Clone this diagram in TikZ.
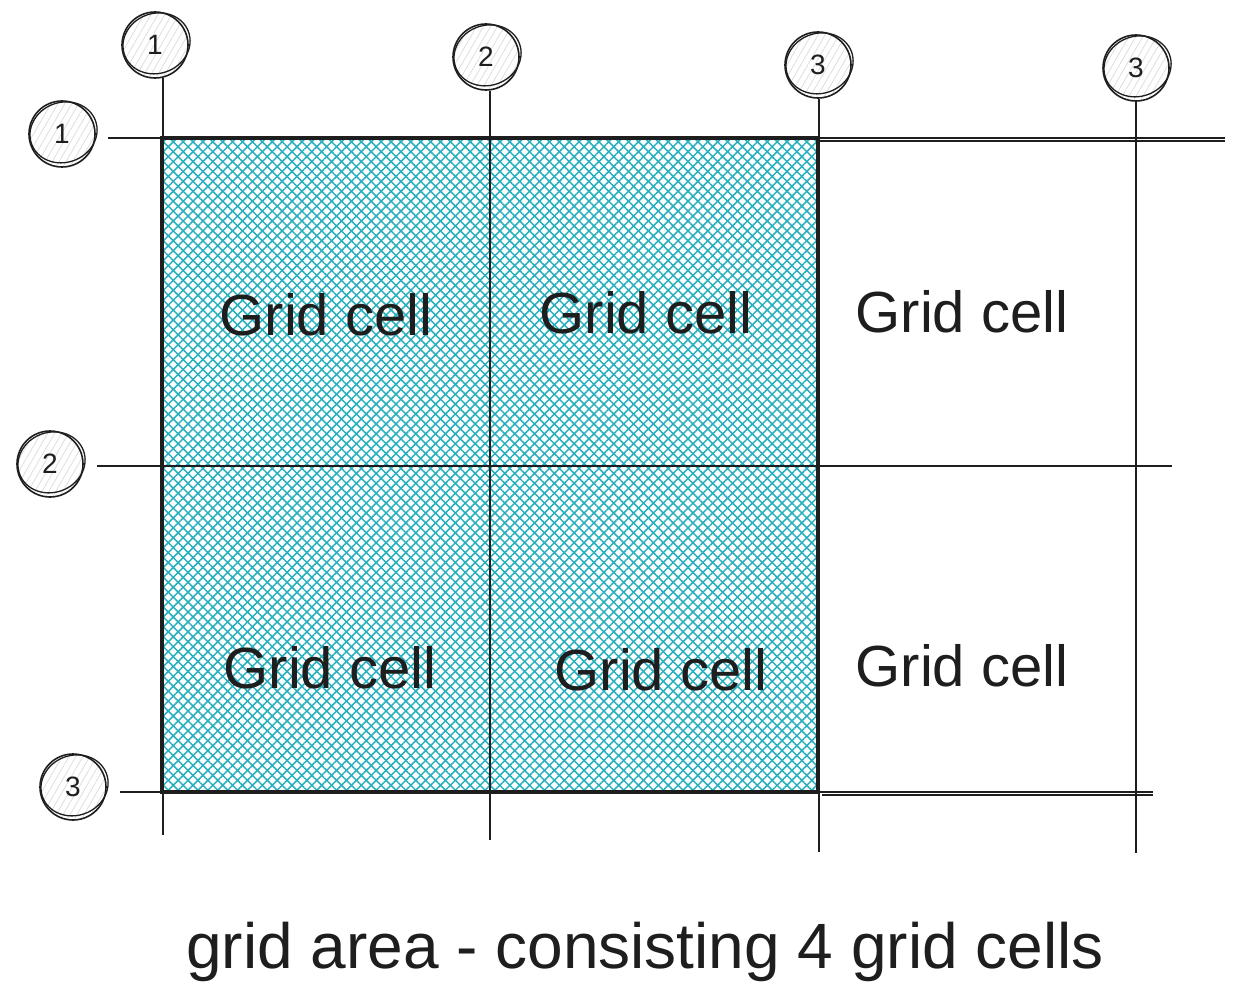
\documentclass[tikz,border=0pt]{standalone}
\usepackage{fontspec}
\setmainfont{Liberation Sans}
\usetikzlibrary{patterns.meta}
\definecolor{hatchteal}{HTML}{28AFBE}
\definecolor{inkk}{HTML}{1E1E1E}
\begin{document}
\begin{tikzpicture}[x=1pt,y=-1pt,
  gline/.style={draw=inkk,line width=2pt},
  numcirc/.style={circle,minimum size=66pt,inner sep=0pt,draw=inkk,line width=1.6pt,
    pattern={Lines[angle=60,distance=6pt,line width=0.7pt]},pattern color=gray!28,
    font=\fontsize{28}{30}\selectfont,text=inkk},
  celltext/.style={font=\fontsize{58}{62}\selectfont,text=inkk},
  captext/.style={font=\fontsize{64}{68}\selectfont,text=inkk}]
\useasboundingbox[fill=white] (0,0) rectangle (1247,1008);

% shaded area
\path[pattern={Lines[angle=45,distance=7pt,line width=1.5pt]},pattern color=hatchteal]
  (162,138) rectangle (818,792);
\path[pattern={Lines[angle=-45,distance=7pt,line width=1.5pt]},pattern color=hatchteal]
  (162,138) rectangle (818,792);

% end coordinates of the grid lines
\coordinate (v1b) at (163,835);
\coordinate (v2b) at (490,840);
\coordinate (v3b) at (819,852);
\coordinate (v4b) at (1136,853);
\coordinate (h1a) at (108,138);
\coordinate (h1b) at (1225,138);
\coordinate (h2a) at (97,466);
\coordinate (h2b) at (1172,466);
\coordinate (h3a) at (120,792);
\coordinate (h3b) at (1153,792);

% number circles
\node[numcirc] (c1) at (155,45) {1};
\node[numcirc] (c2) at (486,57) {2};
\node[numcirc] (c3) at (818,65) {3};
\node[numcirc] (c4) at (1136,68) {3};
\node[numcirc] (r1) at (62,134) {1};
\node[numcirc] (r2) at (50,464) {2};
\node[numcirc] (r3) at (73,787) {3};
\foreach \n in {c1,c2,c3,c4,r1,r2,r3}{
  \draw[inkk,line width=1.3pt,rotate around={20:(\n.center)}]
    ([shift={(2,-1)}]\n.center) ellipse [x radius=34, y radius=30];
}

% vertical lines
\draw[gline] (c1.south -| v1b) -- (v1b);
\draw[gline] (c2.south -| v2b) -- (v2b);
\draw[gline] (c3.south -| v3b) -- (v3b);
\draw[gline] (c4.south -| v4b) -- (v4b);
% horizontal lines
\draw[gline] (h1a) -- (h1b);
\draw[gline] (h2a) -- (h2b);
\draw[gline] (h3a) -- (h3b);
\draw[inkk,line width=1.2pt] (818,141) -- (1225,141);
\draw[inkk,line width=1.2pt] (822,795) -- (1153,795);

% border of the area
\draw[inkk,line width=3.5pt] (162,138) rectangle (818,792);

% cell labels
\node[celltext] (g11) at (326,315) {Grid cell};
\node[celltext] (g12) at (646,313) {Grid cell};
\node[celltext] (g13) at (962,312) {Grid cell};
\node[celltext] (g21) at (330,668) {Grid cell};
\node[celltext] (g22) at (661,670) {Grid cell};
\node[celltext] (g23) at (962,666) {Grid cell};

\node[captext] (cap) at (645,952) {grid area - consisting 4 grid cells};
\end{tikzpicture}
\end{document}
